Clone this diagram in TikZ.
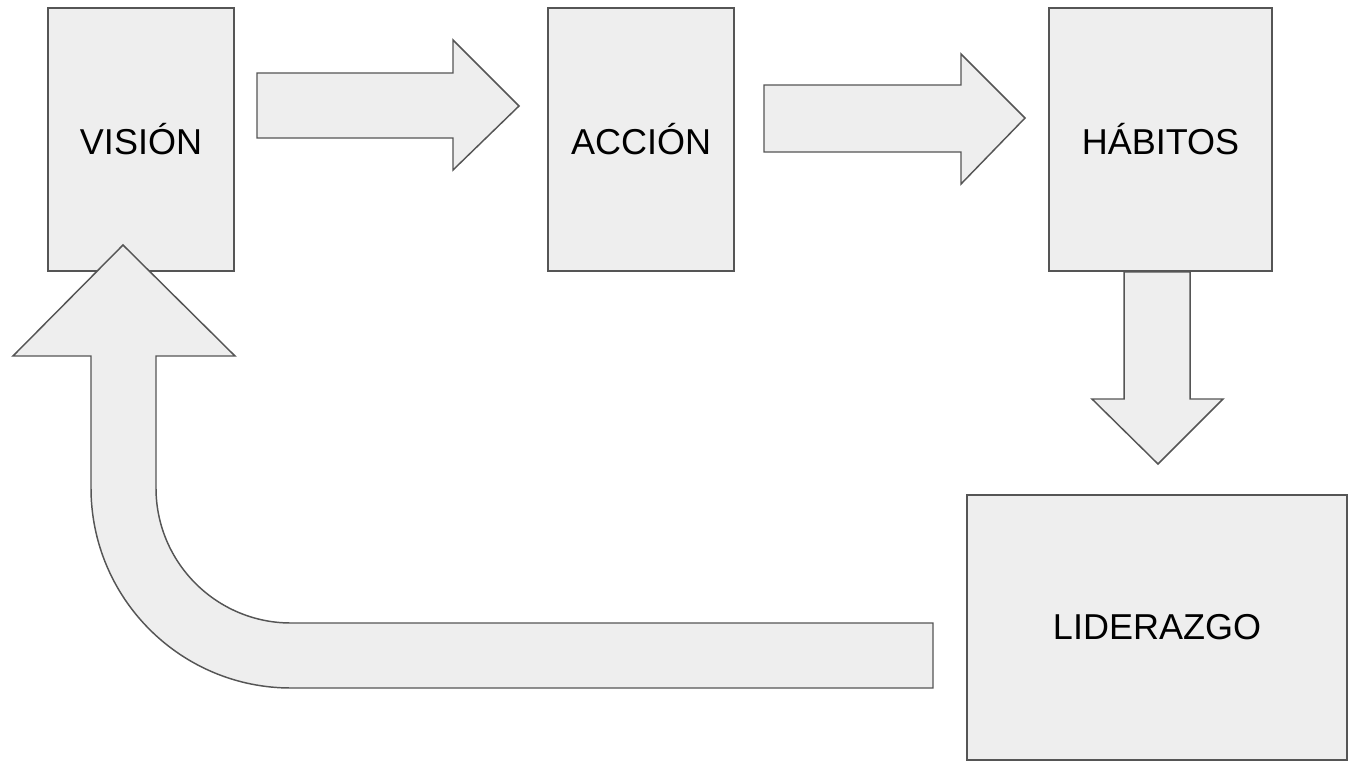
\documentclass[tikz,border=0pt]{standalone}
\usepackage{fontspec}
\setmainfont{Liberation Sans}
\definecolor{shapefill}{HTML}{EEEEEE}
\definecolor{shapeline}{HTML}{555555}
\begin{document}
\begin{tikzpicture}[x=0.75pt,y=-0.75pt,
  box/.style={draw=shapeline,fill=shapefill,line width=1.1pt,inner sep=0pt,
    font=\fontsize{27}{32}\selectfont},
  blockarrow/.style={draw=shapeline,fill=shapefill,line width=1.1pt,line join=miter}]
\useasboundingbox (0,0) rectangle (1355,767);
% boxes
\node[box,minimum width=139.5pt,minimum height=197.25pt] (vision) at (141,139.5) {VISIÓN};
\node[box,minimum width=139.5pt,minimum height=197.25pt] (accion) at (641,139.5) {ACCIÓN};
\node[box,minimum width=167.25pt,minimum height=197.25pt] (habitos) at (1160.5,139.5) {HÁBITOS};
\node[box,minimum width=285pt,minimum height=198.75pt] (liderazgo) at (1157,627.5) {LIDERAZGO};
% arrow vision -> accion
\draw[blockarrow] (257,73) -- (453,73) -- (453,40) -- (519,106) -- (453,170) -- (453,138) -- (257,138) -- cycle;
% arrow accion -> habitos
\draw[blockarrow] (764,85) -- (961,85) -- (961,54) -- (1025,118) -- (961,184) -- (961,152) -- (764,152) -- cycle;
% arrow habitos -> liderazgo
\draw[blockarrow] (1124,272) -- (1190,272) -- (1190,399) -- (1223,399) -- (1158,464) -- (1092,399) -- (1124,399) -- cycle;
% curved arrow liderazgo -> vision
\draw[blockarrow] (933,623) -- (291,623) arc[start angle=90,end angle=180,radius=135]
  -- (156,356) -- (235,356) -- (123,245) -- (13,356) -- (91,356) -- (91,488)
  arc[start angle=180,end angle=90,radius=200] -- (933,688) -- cycle;
\end{tikzpicture}
\end{document}
